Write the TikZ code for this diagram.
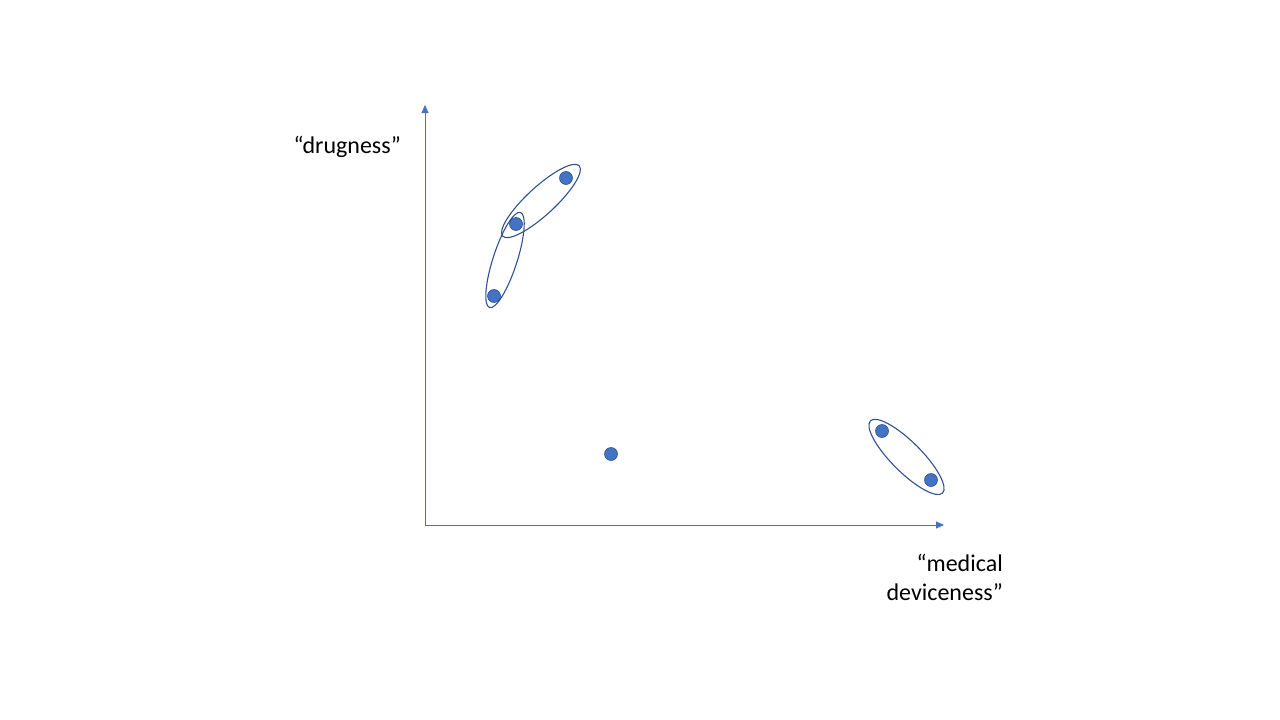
\documentclass[tikz,border=0pt]{standalone}
\usepackage{fontspec}
\setmainfont{Carlito}
\usetikzlibrary{calc,arrows.meta}
\definecolor{dotblue}{HTML}{4472C4}
\definecolor{rimblue}{HTML}{2F528F}

\begin{document}
\begin{tikzpicture}[x=1pt,y=-1pt,
    dot/.style={circle,fill=dotblue,draw=rimblue,line width=0.6pt,minimum size=13pt,inner sep=0pt},
    group/.style={draw=rimblue,line width=1.1pt},
    axis/.style={draw=dotblue,line width=0.9pt,-{Triangle[length=8pt,width=7pt]}},
    lbl/.style={font=\fontsize{24}{29}\selectfont,align=right,inner sep=0pt}]
  \useasboundingbox (0,0) rectangle (1280,720);

  % axes
  \coordinate (o) at (425,525);
  \coordinate (ytip) at (425,105);
  \coordinate (xtip) at (944,525);
  \draw[axis] (o) -- (ytip);
  \draw[axis] (o) -- (xtip);

  \node[lbl,anchor=east] (ylab) at (401,147) {“drugness”};
  \node[lbl,anchor=north east] (xlab) at (1003,554) {“medical\\deviceness”};

  % points
  \node[dot] (d1) at (566,178) {};
  \node[dot] (d2) at (516,224) {};
  \node[dot] (d3) at (494,296) {};
  \node[dot] (d4) at (611,454) {};
  \node[dot] (d5) at (882,431) {};
  \node[dot] (d6) at (931,480) {};

  % groups
  \draw[group,rotate around={42.6:($(d1)!0.5!(d2)$)}] ($(d1)!0.5!(d2)$) ellipse [x radius=52pt,y radius=14pt];
  \draw[group,rotate around={72:($(d2)!0.5!(d3)$)}] ($(d2)!0.5!(d3)$) ellipse [x radius=50pt,y radius=12pt];
  \draw[group,rotate around={-45:($(d5)!0.5!(d6)+(1,1)$)}] ($(d5)!0.5!(d6)+(1,1)$) ellipse [x radius=51pt,y radius=15pt];
\end{tikzpicture}
\end{document}
